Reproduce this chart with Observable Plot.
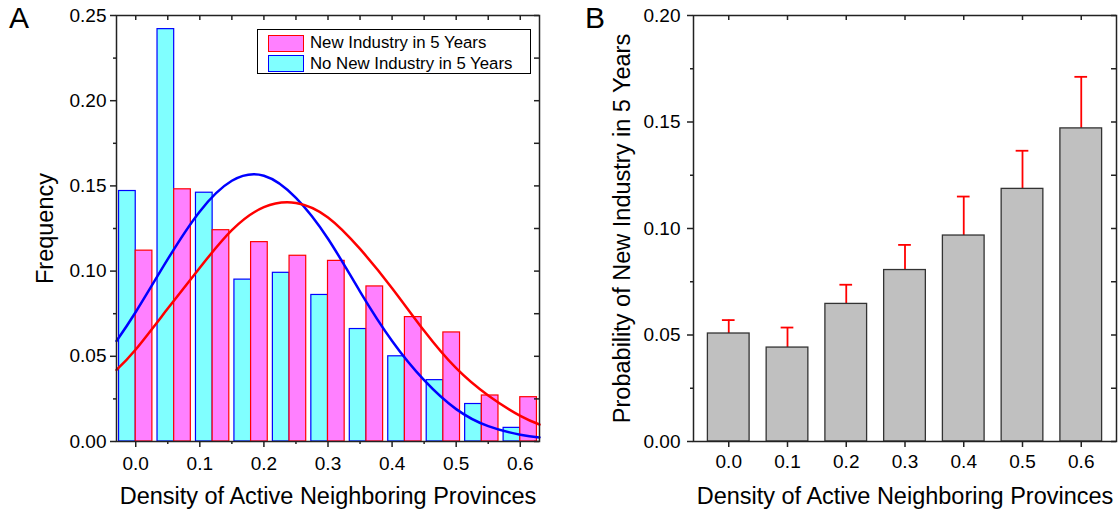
<!DOCTYPE html>
<html>
<head>
<meta charset="utf-8">
<script src="https://cdn.jsdelivr.net/npm/d3@7"></script>
<script src="https://cdn.jsdelivr.net/npm/@observablehq/plot@0.6"></script>
<style>
  html, body { margin: 0; padding: 0; background: #fff; }
  #wrap { position: relative; width: 1120px; height: 516px; display: flex; font-family: "Liberation Sans", Arial, sans-serif; color: #000; }
  .panel-letter { position: absolute; font-size: 30px; line-height: 1; }
  .legend { position: absolute; left: 257px; top: 29px; width: 274px; height: 45px; box-sizing: border-box; border: 1.2px solid #000; background: #fff; }
  .legend-row { position: absolute; left: 10px; display: flex; align-items: center; font-size: 16.8px; white-space: nowrap; }
  .swatch { width: 36px; height: 17px; box-sizing: border-box; margin-right: 6px; }
</style>
</head>
<body>
<div id="wrap"></div>
<script>
// ---------- Panel A data ----------
const binCenters = [0, 0.06, 0.12, 0.18, 0.24, 0.30, 0.36, 0.42, 0.48, 0.54, 0.60];
const freqNoNew  = [0.147, 0.242, 0.146, 0.095, 0.099, 0.086, 0.066, 0.050, 0.036, 0.022, 0.008];
const freqNew    = [0.112, 0.148, 0.124, 0.117, 0.109, 0.106, 0.091, 0.073, 0.064, 0.027, 0.026];
// fitted curves
const curveX     = [-0.03, 0, 0.05, 0.10, 0.15, 0.20, 0.25, 0.30, 0.35, 0.40, 0.45, 0.50, 0.55, 0.60, 0.63];
const fitNoNew   = [0.059, 0.076, 0.107, 0.135, 0.153, 0.156, 0.143, 0.119, 0.088, 0.059, 0.036, 0.019, 0.009, 0.004, 0.0024];
const fitNew     = [0.042, 0.054, 0.078, 0.102, 0.124, 0.1375, 0.140, 0.1315, 0.113, 0.090, 0.065, 0.043, 0.027, 0.015, 0.010];
const legendLabels = ["New Industry in 5 Years", "No New Industry in 5 Years"];
const xTicksA  = [0, 0.1, 0.2, 0.3, 0.4, 0.5, 0.6];
const xMinorA  = [0.05, 0.15, 0.25, 0.35, 0.45, 0.55];
const yTicksA  = [0, 0.05, 0.10, 0.15, 0.20, 0.25];
const yMinorA  = [0.025, 0.075, 0.125, 0.175, 0.225];

// ---------- Panel B data ----------
const densityLevels = [0, 0.1, 0.2, 0.3, 0.4, 0.5, 0.6];
const probNew       = [0.0507, 0.0441, 0.0646, 0.0805, 0.0967, 0.1186, 0.147];
const probUpper     = [0.0570, 0.0535, 0.0736, 0.0923, 0.1150, 0.1365, 0.1712];
const xTicksB  = [0, 0.1, 0.2, 0.3, 0.4, 0.5, 0.6];
const yTicksB  = [0, 0.05, 0.10, 0.15, 0.20];
const yMinorB  = [0.025, 0.075, 0.125, 0.175];

const xLabel = "Density of Active Neighboring Provinces";
const yLabelA = "Frequency";
const yLabelB = "Probability of New Industry in 5 Years";

// ---------- layout ----------
const fontFamily = '"Liberation Sans", Arial, sans-serif';
const W = 560, H = 516, MT = 15, MB = 75;
const frameH = H - MT - MB;
const axisColor = "#222";
const tickFont = 19;
const labelFont = 23.5;

const histRows = binCenters.map((c, i) => ({c, noNew: freqNoNew[i], isNew: freqNew[i]}));
const fitRows = curveX.map((x, i) => ({x, noNew: fitNoNew[i], isNew: fitNew[i]}));

const mlA = 116, mrA = 21;
const frameWA = W - mlA - mrA;
const plotA = Plot.plot({
  width: W, height: H, marginLeft: mlA, marginRight: mrA, marginTop: MT, marginBottom: MB,
  style: {fontFamily, fontSize: tickFont + "px", color: "#000", background: "#fff", overflow: "visible"},
  x: {domain: [-0.03, 0.63]},
  y: {domain: [0, 0.25]},
  marks: [
    Plot.rectY(histRows, {x1: d => d.c - 0.026, x2: d => d.c, y: "noNew", fill: "#80ffff", stroke: "#0000ff", strokeWidth: 1.2}),
    Plot.rectY(histRows, {x1: d => d.c, x2: d => d.c + 0.026, y: "isNew", fill: "#ff80ff", stroke: "#ff0000", strokeWidth: 1.2}),
    Plot.line(fitRows, {x: "x", y: "noNew", stroke: "#0000ff", strokeWidth: 2.5, curve: "natural"}),
    Plot.line(fitRows, {x: "x", y: "isNew", stroke: "#ff0000", strokeWidth: 2.5, curve: "natural"}),
    Plot.axisY({ticks: yTicksA, tickSize: 6, tickPadding: 4, tickFormat: d3.format(".2f"), label: null, fontSize: tickFont, stroke: axisColor, strokeWidth: 1.5}),
    Plot.axisY({ticks: yMinorA, tickSize: 3, tickFormat: () => "", label: null, stroke: axisColor, strokeWidth: 1.5}),
    Plot.axisX({ticks: xTicksA, tickSize: 6, tickPadding: 9, tickFormat: d3.format(".1f"), label: null, fontSize: tickFont, stroke: axisColor, strokeWidth: 1.5}),
    Plot.axisX({ticks: xMinorA, tickSize: 3, tickFormat: () => "", label: null, stroke: axisColor, strokeWidth: 1.5}),
    Plot.tickX([...xTicksA, ...xMinorA], {x: d => d, insetBottom: frameH - 5, stroke: axisColor, strokeWidth: 1.5}),
    Plot.tickY([...yTicksA, ...yMinorA], {y: d => d, insetLeft: frameWA - 5, stroke: axisColor, strokeWidth: 1.5}),
    Plot.frame({stroke: axisColor, strokeWidth: 1.5}),
    Plot.text([yLabelA], {frameAnchor: "left", textAnchor: "middle", lineAnchor: "middle", rotate: -90, dx: -71, fontSize: labelFont, fill: "#000"}),
    Plot.text([xLabel], {frameAnchor: "bottom", textAnchor: "middle", lineAnchor: "middle", dy: 55, fontSize: labelFont, fill: "#000"})
  ]
});

const probRows = densityLevels.map((c, i) => ({c, p: probNew[i], hi: probUpper[i]}));
const mlB = 133, mrB = 4;
const frameWB = W - mlB - mrB;
const plotB = Plot.plot({
  width: W, height: H, marginLeft: mlB, marginRight: mrB, marginTop: MT, marginBottom: MB,
  style: {fontFamily, fontSize: tickFont + "px", color: "#000", background: "#fff", overflow: "visible"},
  x: {domain: [-0.06, 0.66]},
  y: {domain: [0, 0.20]},
  marks: [
    Plot.ruleX(probRows, {x: "c", y1: "p", y2: "hi", stroke: "#ff0000", strokeWidth: 1.8}),
    Plot.ruleY(probRows, {y: "hi", x1: d => d.c - 0.0108, x2: d => d.c + 0.0108, stroke: "#ff0000", strokeWidth: 1.8}),
    Plot.rectY(probRows, {x1: d => d.c - 0.0355, x2: d => d.c + 0.0355, y: "p", fill: "#c0c0c0", stroke: "#333", strokeWidth: 1.3}),
    Plot.axisY({ticks: yTicksB, tickSize: 6, tickPadding: 7, tickFormat: d3.format(".2f"), label: null, fontSize: tickFont, stroke: axisColor, strokeWidth: 1.5}),
    Plot.axisY({ticks: yMinorB, tickSize: 3, tickFormat: () => "", label: null, stroke: axisColor, strokeWidth: 1.5}),
    Plot.axisX({ticks: xTicksB, tickSize: 6, tickPadding: 7, tickFormat: d3.format(".1f"), label: null, fontSize: tickFont, stroke: axisColor, strokeWidth: 1.5}),
    Plot.tickX(xTicksB, {x: d => d, insetBottom: frameH - 5, stroke: axisColor, strokeWidth: 1.5}),
    Plot.tickY([...yTicksB, ...yMinorB], {y: d => d, insetLeft: frameWB - 5, stroke: axisColor, strokeWidth: 1.5}),
    Plot.frame({stroke: axisColor, strokeWidth: 1.5}),
    Plot.text([yLabelB], {frameAnchor: "left", textAnchor: "middle", lineAnchor: "middle", rotate: -90, dx: -71, fontSize: labelFont, fill: "#000"}),
    Plot.text([xLabel], {frameAnchor: "bottom", textAnchor: "middle", lineAnchor: "middle", dy: 55, fontSize: labelFont, fill: "#000"})
  ]
});

const wrap = document.getElementById("wrap");
wrap.appendChild(plotA);
wrap.appendChild(plotB);

// panel letters
for (const [t, left] of [["A", 9], ["B", 585]]) {
  const el = document.createElement("div");
  el.className = "panel-letter";
  el.textContent = t;
  el.style.left = left + "px";
  el.style.top = "3px";
  wrap.appendChild(el);
}

// legend
const legend = document.createElement("div");
legend.className = "legend";
const swatchStyles = [["#ff80ff", "#ff0000"], ["#80ffff", "#0000ff"]];
legendLabels.forEach((label, i) => {
  const row = document.createElement("div");
  row.className = "legend-row";
  row.style.top = (3 + i * 20.7) + "px";
  const sw = document.createElement("div");
  sw.className = "swatch";
  sw.style.background = swatchStyles[i][0];
  sw.style.border = "1.5px solid " + swatchStyles[i][1];
  const tx = document.createElement("span");
  tx.textContent = label;
  row.appendChild(sw);
  row.appendChild(tx);
  legend.appendChild(row);
});
wrap.appendChild(legend);
</script>
</body>
</html>
